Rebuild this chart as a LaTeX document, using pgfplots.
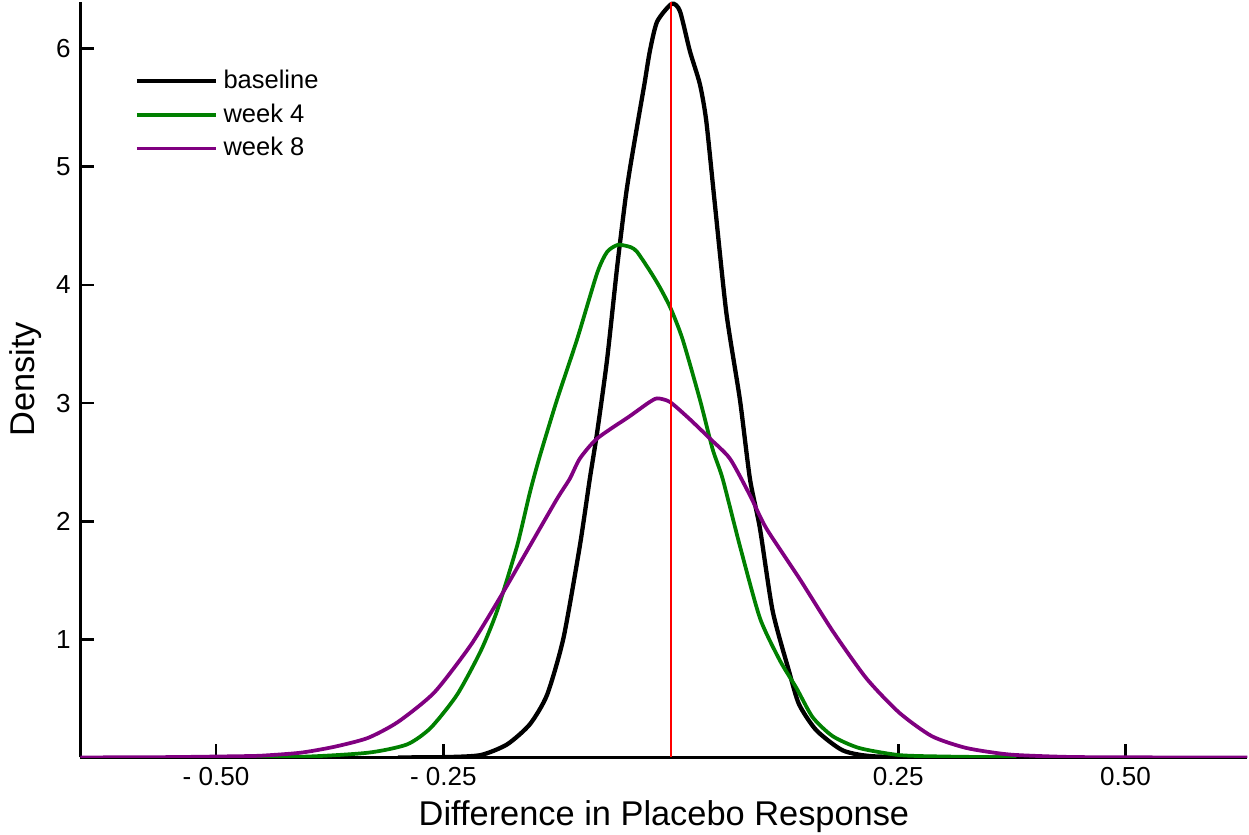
\documentclass[border=0pt]{standalone}
\usepackage{fontspec}
\setmainfont{Liberation Sans}
\usepackage{pgfplots}
\pgfplotsset{compat=1.18}
\definecolor{wkgreen}{RGB}{0,128,0}
\definecolor{wkpurple}{RGB}{128,0,128}
\begin{document}
\begin{tikzpicture}
\begin{axis}[
    width=421pt, height=272.7pt, scale only axis,
    xmin=-0.649, xmax=0.634, ymin=0, ymax=6.4,
    axis x line=bottom, axis y line=left,
    axis line style={-, line width=1.1pt},
    tick align=inside, major tick length=5pt,
    tick style={line width=1pt, black},
    xtick={-0.5,-0.25,0.25,0.5},
    xticklabels={- 0.50,- 0.25,0.25,0.50},
    ytick={1,2,3,4,5,6},
    /pgf/number format/assume math mode=true,
    ticklabel style={font=\fontsize{9.4}{11}\selectfont},
    xlabel={Difference in Placebo Response},
    ylabel={Density},
    label style={font=\fontsize{12.4}{14}\selectfont},
    xlabel style={inner sep=0.5pt, yshift=-1.5pt},
    ylabel style={xshift=0pt, yshift=-1.5pt},
    legend style={draw=none, fill=none, at={(0.039,0.925)}, anchor=north west,
        font=\fontsize{9.2}{11}\selectfont, row sep=0pt},
    legend cell align=left,
    legend image code/.code={\draw[#1] (0cm,0cm) -- (1.0cm,0cm);},
]
% baseline
\addplot[black, line width=1.55pt, smooth, tension=0.4] coordinates {
(-0.30,0) (-0.246,0.003) (-0.209,0.02) (-0.180,0.11) (-0.155,0.28) (-0.136,0.53)
(-0.118,1.01) (-0.100,1.79) (-0.089,2.36) (-0.081,2.75) (-0.070,3.37) (-0.059,4.15)
(-0.050,4.72) (-0.045,4.98) (-0.036,5.39) (-0.029,5.70) (-0.023,5.98) (-0.015,6.23)
(0.001,6.38) (0.010,6.32) (0.021,5.98) (0.032,5.70) (0.039,5.39) (0.048,4.72)
(0.061,3.77) (0.076,3.03) (0.087,2.36) (0.098,1.94) (0.112,1.24) (0.130,0.73)
(0.141,0.45) (0.160,0.23) (0.189,0.06) (0.222,0.01) (0.30,0) (0.40,0)
};
\addlegendentry{baseline}
% week 4
\addplot[wkgreen, line width=1.35pt, smooth, tension=0.4] coordinates {
(-0.55,0) (-0.41,0.005) (-0.333,0.04) (-0.290,0.11) (-0.264,0.25) (-0.235,0.53)
(-0.209,0.90) (-0.191,1.24) (-0.169,1.79) (-0.155,2.24) (-0.144,2.55) (-0.125,3.03)
(-0.103,3.54) (-0.081,4.10) (-0.070,4.28) (-0.058,4.34) (-0.044,4.32) (-0.037,4.28)
(-0.023,4.12) (-0.012,3.98) (0,3.80) (0.013,3.54) (0.032,3.03) (0.046,2.61)
(0.057,2.36) (0.076,1.79) (0.098,1.18) (0.120,0.82) (0.138,0.59) (0.156,0.34)
(0.178,0.18) (0.207,0.08) (0.251,0.02) (0.30,0.008) (0.38,0)
};
\addlegendentry{week 4}
% week 8
\addplot[wkpurple, line width=1.35pt, smooth, tension=0.4] coordinates {
(-0.649,0) (-0.55,0.003) (-0.48,0.01) (-0.45,0.015) (-0.407,0.04) (-0.37,0.09)
(-0.333,0.165) (-0.30,0.30) (-0.26,0.55) (-0.220,0.95) (-0.188,1.35) (-0.155,1.79)
(-0.125,2.19) (-0.111,2.36) (-0.100,2.53) (-0.081,2.70) (-0.045,2.89) (-0.025,3.00)
(-0.015,3.04) (-0.001,3.01) (0.020,2.87) (0.043,2.70) (0.065,2.53) (0.087,2.22)
(0.105,1.94) (0.141,1.52) (0.178,1.07) (0.215,0.67) (0.251,0.38) (0.287,0.18)
(0.325,0.08) (0.372,0.025) (0.434,0.005) (0.50,0.001) (0.634,0)
};
\addlegendentry{week 8}
\addplot[red, line width=0.85pt, forget plot] coordinates {(0,0) (0,6.4)};
\end{axis}
\end{tikzpicture}
\end{document}
